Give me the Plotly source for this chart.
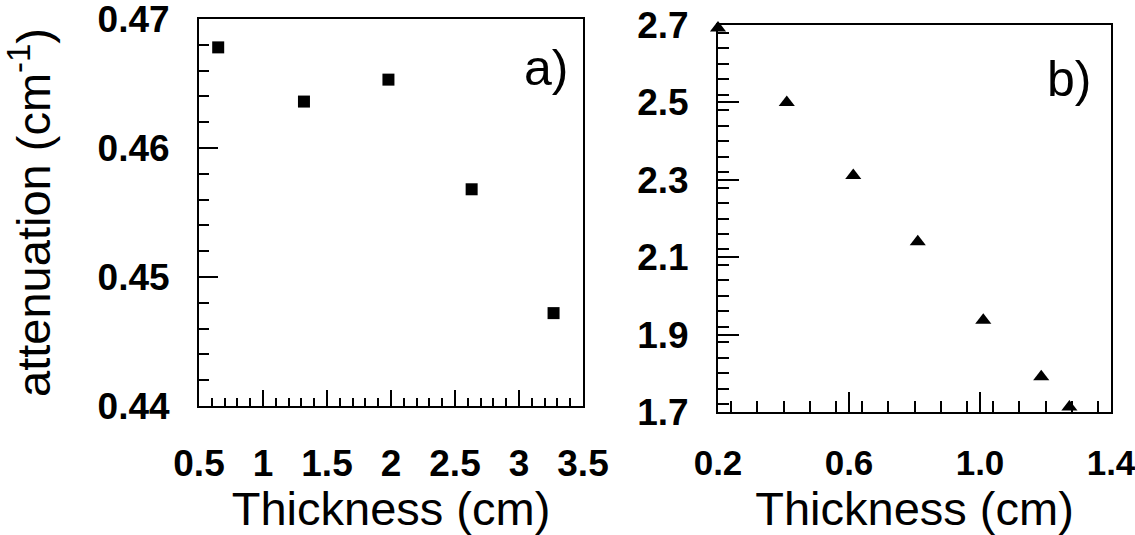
import plotly.graph_objects as go

# Panel a) data
thickness_a = [0.65, 1.32, 1.98, 2.63, 3.27]
attenuation_a = [0.4678, 0.4636, 0.4653, 0.4568, 0.4472]

# Panel b) data
thickness_b = [0.20, 0.41, 0.613, 0.81, 1.01, 1.187, 1.273]
attenuation_b = [2.692, 2.50, 2.311, 2.14, 1.937, 1.791, 1.713]

FONT = "Liberation Sans, Arial, Helvetica, sans-serif"
W, H = 1135, 535

fig = go.Figure()
fig.add_trace(go.Scatter(x=thickness_a, y=attenuation_a, mode="markers",
                         marker=dict(symbol="square", size=12, color="black"),
                         xaxis="x", yaxis="y", cliponaxis=False, showlegend=False))
fig.add_trace(go.Scatter(x=thickness_b, y=attenuation_b, mode="markers",
                         marker=dict(symbol="triangle-up", size=14, color="black"),
                         xaxis="x2", yaxis="y2", cliponaxis=False, showlegend=False))

tickfont = dict(family=FONT, size=37, color="black", weight="bold")
tickfont_x2 = dict(family=FONT, size=35, color="black", weight="bold")
titlefont = dict(family=FONT, size=47, color="black")

def ax(**kw):
    base = dict(showline=True, mirror=True, linecolor="black", linewidth=2,
                showgrid=False, zeroline=False, ticks="inside", tickcolor="black",
                tickwidth=2, tickfont=tickfont, automargin=False,
                ticklabeloverflow="allow")
    base.update(kw)
    return base

fig.update_layout(
    width=W, height=H,
    margin=dict(l=0, r=0, t=0, b=0),
    paper_bgcolor="white", plot_bgcolor="white",
    xaxis=ax(domain=[199 / W, 583 / W], range=[0.5, 3.500001], tick0=0.5, dtick=0.5,
             ticklen=16, ticklabelstandoff=24,
             minor=dict(ticks="inside", dtick=0.1, ticklen=8, tickwidth=2, tickcolor="black"),
             title=dict(text="Thickness (cm)", font=titlefont, standoff=8),
             anchor="y"),
    yaxis=ax(domain=[1 - 406 / H, 1 - 19 / H], range=[0.44, 0.4700001], tick0=0.44, dtick=0.01,
             ticklen=19, ticklabelstandoff=20,
             minor=dict(ticks="inside", dtick=0.002, ticklen=10, tickwidth=2, tickcolor="black"),
             title=dict(text="attenuation (cm<sup>-1</sup>)", font=titlefont, standoff=32),
             anchor="x"),
    xaxis2=ax(domain=[718 / W, 1111 / W], range=[0.2, 1.400001], tick0=0.2, dtick=0.4,
              tickformat=".1f", ticklen=20, ticklabelstandoff=19, tickfont=tickfont_x2,
              minor=dict(ticks="inside", dtick=0.08, ticklen=11, tickwidth=2, tickcolor="black"),
              title=dict(text="Thickness (cm)", font=titlefont, standoff=12),
              anchor="y2"),
    yaxis2=ax(domain=[1 - 412 / H, 1 - 25 / H], range=[1.7, 2.700001], tick0=1.7, dtick=0.2,
              tickformat=".1f", ticklen=21, ticklabelstandoff=20,
              minor=dict(ticks="inside", dtick=0.04, ticklen=11, tickwidth=2, tickcolor="black"),
              anchor="x2"),
    annotations=[
        dict(text="a)", x=3.4, y=0.4662, xref="x", yref="y", showarrow=False,
             xanchor="right", yanchor="middle", font=dict(family=FONT, size=50, color="black")),
        dict(text="b)", x=1.345, y=2.56, xref="x2", yref="y2", showarrow=False,
             xanchor="right", yanchor="middle", font=dict(family=FONT, size=50, color="black")),
    ],
)

fig.write_html("out.html")
